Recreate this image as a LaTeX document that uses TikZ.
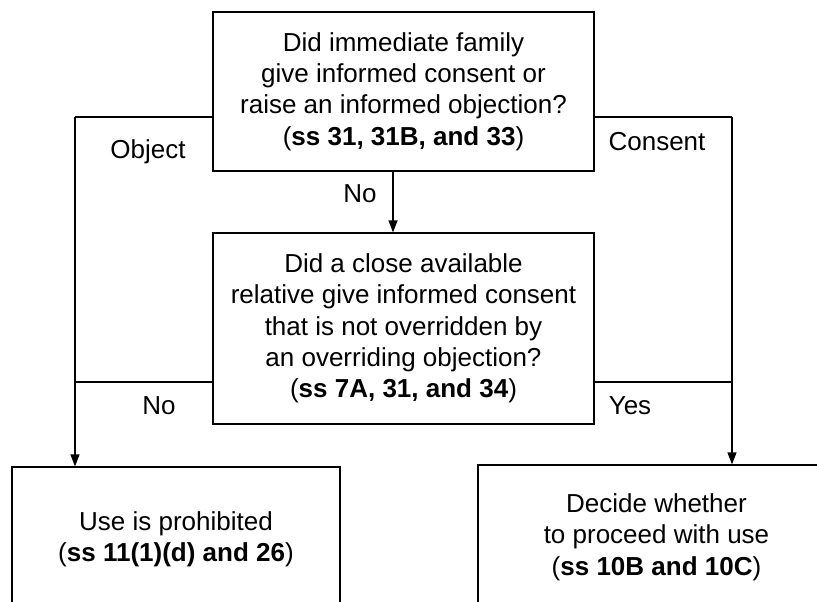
\documentclass[tikz,border=0pt]{standalone}
\usepackage{fontspec}
\setmainfont{Liberation Sans}
\usetikzlibrary{arrows.meta,positioning}

\begin{document}
\begin{tikzpicture}[x=1pt,y=-1pt,
  every node/.style={font=\fontsize{26}{31.3}\selectfont},
  box/.style={draw,line width=1.2pt,align=center,inner sep=0pt},
  lbl/.style={inner sep=0pt},
  flow/.style={line width=1.2pt},
  arr/.style={flow,-{Triangle[length=12pt,width=9pt]}}]
\useasboundingbox (0,0) rectangle (817,602);
\clip (0,0) rectangle (817,602);

% Questions
\node[box,minimum width=381pt,minimum height=159pt] (family) at (403.5,91.5)
  {Did immediate family\\give informed consent or\\raise an informed objection?\\(\textbf{ss 31, 31B, and 33})};
\node[box,minimum width=381pt,minimum height=191pt] (relative) at (403.5,328.5)
  {Did a close available\\relative give informed consent\\that is not overridden by\\an overriding objection?\\(\textbf{ss 7A, 31, and 34})};

% Outcomes
\node[box,minimum width=328pt,minimum height=144pt] (prohibit) at (176,539)
  {Use is prohibited\\(\textbf{ss 11(1)(d) and 26})};
\node[box,minimum width=357pt,minimum height=144pt] (proceed) at (656.5,537)
  {Decide whether\\to proceed with use\\(\textbf{ss 10B and 10C})};

% Branch points
\coordinate (objL) at (75,117);
\coordinate (conR) at (732,117);
\coordinate (noL) at (75,382);
\coordinate (yesR) at (732,382);
\coordinate (mid) at (393,200);

% Connectors
\draw[flow] (family.west |- objL) -- (objL);
\draw[arr] (objL) -- (objL |- prohibit.north);
\draw[flow] (family.east |- conR) -- (conR);
\draw[arr] (conR) -- (conR |- proceed.north);
\draw[arr] (mid |- family.south) -- (mid |- relative.north);
\draw[flow] (relative.west |- noL) -- (noL);
\draw[flow] (relative.east |- yesR) -- (yesR);

% Labels
\node[lbl] (object) at (148,152) {Object};
\node[lbl] (consent) at (657,142) {Consent};
\node[lbl] (nomid) at (360,194) {No};
\node[lbl] (noleft) at (159,406) {No};
\node[lbl] (yes) at (630,406) {Yes};
\end{tikzpicture}
\end{document}
